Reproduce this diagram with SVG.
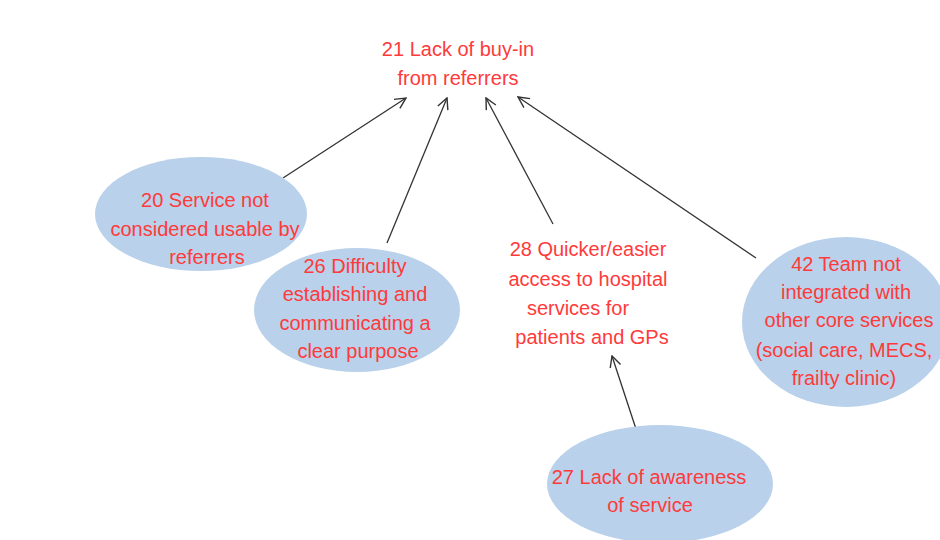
<svg xmlns="http://www.w3.org/2000/svg" width="940" height="540" viewBox="0 0 940 540">
  <defs>
    <marker id="arrow" viewBox="0 0 12 12" refX="11" refY="6" markerWidth="13" markerHeight="13" markerUnits="userSpaceOnUse" orient="auto">
      <path d="M1,1 L11,6 L1,11" fill="none" stroke="#333" stroke-width="1.3"/>
    </marker>
  </defs>
  <style>
    .bubble { fill: #b9d1ea; }
    .label { font-family: "Liberation Sans", Arial, sans-serif; font-size: 20px; fill: #ff3a3a; text-anchor: middle; }
    .link { stroke: #333; stroke-width: 1.3; fill: none; marker-end: url(#arrow); }
  </style>
  <rect width="940" height="540" fill="#ffffff"/>

  <g id="connectors">
    <line class="link" x1="283" y1="178" x2="406" y2="98"/>
    <line class="link" x1="387" y1="243" x2="447" y2="98"/>
    <line class="link" x1="553" y1="224" x2="486" y2="98"/>
    <line class="link" x1="756" y1="258" x2="518" y2="97"/>
    <line class="link" x1="637" y1="432" x2="612" y2="356"/>
  </g>

  <g id="n21">
    <text class="label" x="458" y="56">21 Lack of buy-in</text>
    <text class="label" x="458" y="85">from referrers</text>
  </g>

  <g id="n20">
    <ellipse class="bubble" cx="201" cy="214" rx="106" ry="57"/>
    <text class="label" x="205" y="207">20 Service not</text>
    <text class="label" x="205" y="236">considered usable by</text>
    <text class="label" x="207" y="264">referrers</text>
  </g>

  <g id="n26">
    <ellipse class="bubble" cx="357" cy="310" rx="103" ry="62"/>
    <text class="label" x="355" y="273">26 Difficulty</text>
    <text class="label" x="355" y="301">establishing and</text>
    <text class="label" x="355" y="330">communicating a</text>
    <text class="label" x="358" y="358">clear purpose</text>
  </g>

  <g id="n28">
    <text class="label" x="588" y="256">28 Quicker/easier</text>
    <text class="label" x="588" y="286">access to hospital</text>
    <text class="label" x="578" y="315">services for</text>
    <text class="label" x="592" y="344">patients and GPs</text>
  </g>

  <g id="n42">
    <ellipse class="bubble" cx="846" cy="322" rx="104" ry="85"/>
    <text class="label" x="846" y="271">42 Team not</text>
    <text class="label" x="846" y="299">integrated with</text>
    <text class="label" x="849" y="327">other core services</text>
    <text class="label" x="844" y="357">(social care, MECS,</text>
    <text class="label" x="844" y="385">frailty clinic)</text>
  </g>

  <g id="n27">
    <ellipse class="bubble" cx="660" cy="484" rx="113" ry="59"/>
    <text class="label" x="649" y="484">27 Lack of awareness</text>
    <text class="label" x="650" y="512">of service</text>
  </g>
</svg>
